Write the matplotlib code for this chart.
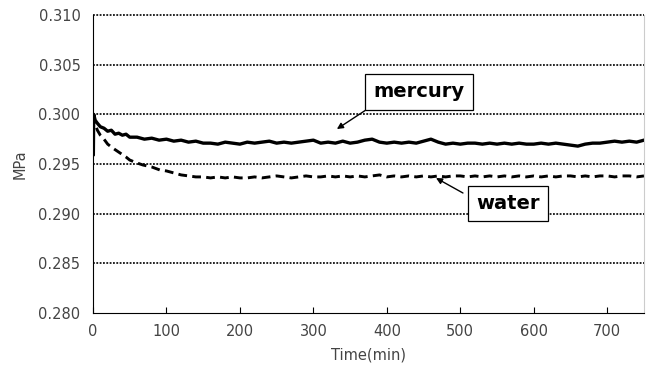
import numpy as np
from matplotlib import pyplot as plt

# elapsed time (min) and pressure (MPa)
mercury_t = [0, 0.5, 1, 3, 6, 10, 15, 20, 25, 30, 35, 40, 45, 50, 60, 70, 80, 90, 100,
             110, 120, 130, 140, 150, 160, 170, 180, 190, 200, 210, 220, 230, 240, 250,
             260, 270, 280, 290, 300, 310, 320, 330, 340, 350, 360, 370, 380, 390, 400,
             410, 420, 430, 440, 450, 460, 470, 480, 490, 500, 510, 520, 530, 540, 550,
             560, 570, 580, 590, 600, 610, 620, 630, 640, 650, 660, 670, 680, 690, 700,
             710, 720, 730, 740, 750]
mercury_p = [0.2998, 0.2959, 0.3000, 0.2994, 0.2991, 0.29875, 0.2986, 0.2983, 0.2984,
             0.2980, 0.2981, 0.2979, 0.2980, 0.2977, 0.2977, 0.2975, 0.2976, 0.2974,
             0.2975,
             0.2973, 0.2974, 0.2972, 0.2973, 0.2971, 0.2971, 0.2970, 0.2972, 0.2971,
             0.2970, 0.2972, 0.2971, 0.2972, 0.2973, 0.2971, 0.2972, 0.2971, 0.2972,
             0.2973, 0.2974, 0.2971, 0.2972, 0.2971, 0.2973, 0.2971, 0.2972, 0.2974,
             0.2975, 0.2972, 0.2971, 0.2972, 0.2971, 0.2972, 0.2971, 0.2973, 0.2975,
             0.2972, 0.2970, 0.2971, 0.2970, 0.2971, 0.2971, 0.2970, 0.2971, 0.2970,
             0.2971, 0.2970, 0.2971, 0.2970, 0.2970, 0.2971, 0.2970, 0.2971, 0.2970,
             0.2969, 0.2968, 0.2970, 0.2971, 0.2971, 0.2972, 0.2973, 0.2972, 0.2973,
             0.2972, 0.2974]

water_t = [0, 3, 6, 10, 14, 20, 27, 33, 39, 45, 50, 60, 68, 80, 91, 100,
           110, 120, 130, 140, 150, 160, 170, 180, 190, 200, 210, 220, 230, 240, 250,
           260, 270, 280, 290, 300, 310, 320, 330, 340, 350, 360, 370, 380, 390, 400,
           410, 420, 430, 440, 450, 460, 470, 480, 490, 500, 510, 520, 530, 540, 550,
           560, 570, 580, 590, 600, 610, 620, 630, 640, 650, 660, 670, 680, 690, 700,
           710, 720, 730, 740, 750]
water_p = [0.3000, 0.2990, 0.2984, 0.2979, 0.2976, 0.2970, 0.2966, 0.2963, 0.2960,
           0.2957, 0.2954, 0.2951, 0.2949, 0.2947, 0.2944, 0.2943,
           0.2941, 0.2939, 0.2938, 0.2937, 0.2937, 0.2936, 0.2937, 0.2936, 0.2937,
           0.2936, 0.2936, 0.2937, 0.2936, 0.2937, 0.2938, 0.2937, 0.2936, 0.2937,
           0.2938, 0.2937, 0.2937, 0.2938, 0.2937, 0.2938, 0.2937, 0.2938, 0.2937,
           0.2938, 0.2939, 0.2937, 0.2938, 0.2937, 0.2938, 0.2937, 0.2938, 0.2937,
           0.2938, 0.2937, 0.2938, 0.2938, 0.2937, 0.2938, 0.2937, 0.2938, 0.2937,
           0.2938, 0.2937, 0.2938, 0.2937, 0.2938, 0.2937, 0.2938, 0.2937, 0.2938,
           0.2938, 0.2937, 0.2938, 0.2937, 0.2938, 0.2938, 0.2937, 0.2938, 0.2938,
           0.2937, 0.2938]

x_ticks = [0, 100, 200, 300, 400, 500, 600, 700]
y_ticks = [0.280, 0.285, 0.290, 0.295, 0.300, 0.305, 0.310]

fig = plt.figure(figsize=(6.52, 3.71), dpi=100)
ax = fig.add_axes([0.1426, 0.1563, 0.8451, 0.8033])

ax.plot(mercury_t, mercury_p, color='black', lw=2.4, solid_joinstyle='round')
ax.plot(water_t, water_p, color='black', lw=2.1, linestyle=(0, (3.0, 1.8)))

ax.set_xlim(0, 750)
ax.set_ylim(0.280, 0.310)
ax.set_xticks(x_ticks)
ax.set_yticks(y_ticks)
ax.set_yticklabels([f'{v:.3f}' for v in y_ticks])

for v in y_ticks[1:]:
    ax.axhline(v, color='black', lw=1.2, linestyle=(0, (1.1, 0.9)), zorder=1,
               clip_on=False)

ax.spines['top'].set_visible(False)
ax.spines['right'].set_color('#cccccc')
ax.spines['right'].set_linewidth(0.8)
ax.tick_params(axis='x', direction='in', length=4, width=0.8, pad=8,
               labelsize=10.5, labelcolor='#444444')
ax.tick_params(axis='y', length=0, pad=9, labelsize=10.5, labelcolor='#444444')

ax.set_xlabel('Time(min)', fontsize=10.5, color='#444444', labelpad=6)
ax.set_ylabel('MPa', fontsize=10.5, color='#444444', labelpad=8)

box = dict(boxstyle='square,pad=0.42', fc='white', ec='black', lw=0.9)
ax.text(443.7, 0.30225, 'mercury', fontsize=14, fontweight='bold',
        ha='center', va='center', bbox=box, zorder=5)
ax.annotate('', xy=(332, 0.29852), xytext=(371.6, 0.30044),
            arrowprops=dict(arrowstyle='-|>', color='black', lw=1.0,
                            mutation_scale=9, shrinkA=0, shrinkB=0))
ax.text(564.9, 0.29102, 'water', fontsize=14, fontweight='bold',
        ha='center', va='center', bbox=box, zorder=5)
ax.annotate('', xy=(466.9, 0.29359), xytext=(503.6, 0.29208),
            arrowprops=dict(arrowstyle='-|>', color='black', lw=1.0,
                            mutation_scale=9, shrinkA=0, shrinkB=0))

fig.savefig('out.png', dpi=100)
